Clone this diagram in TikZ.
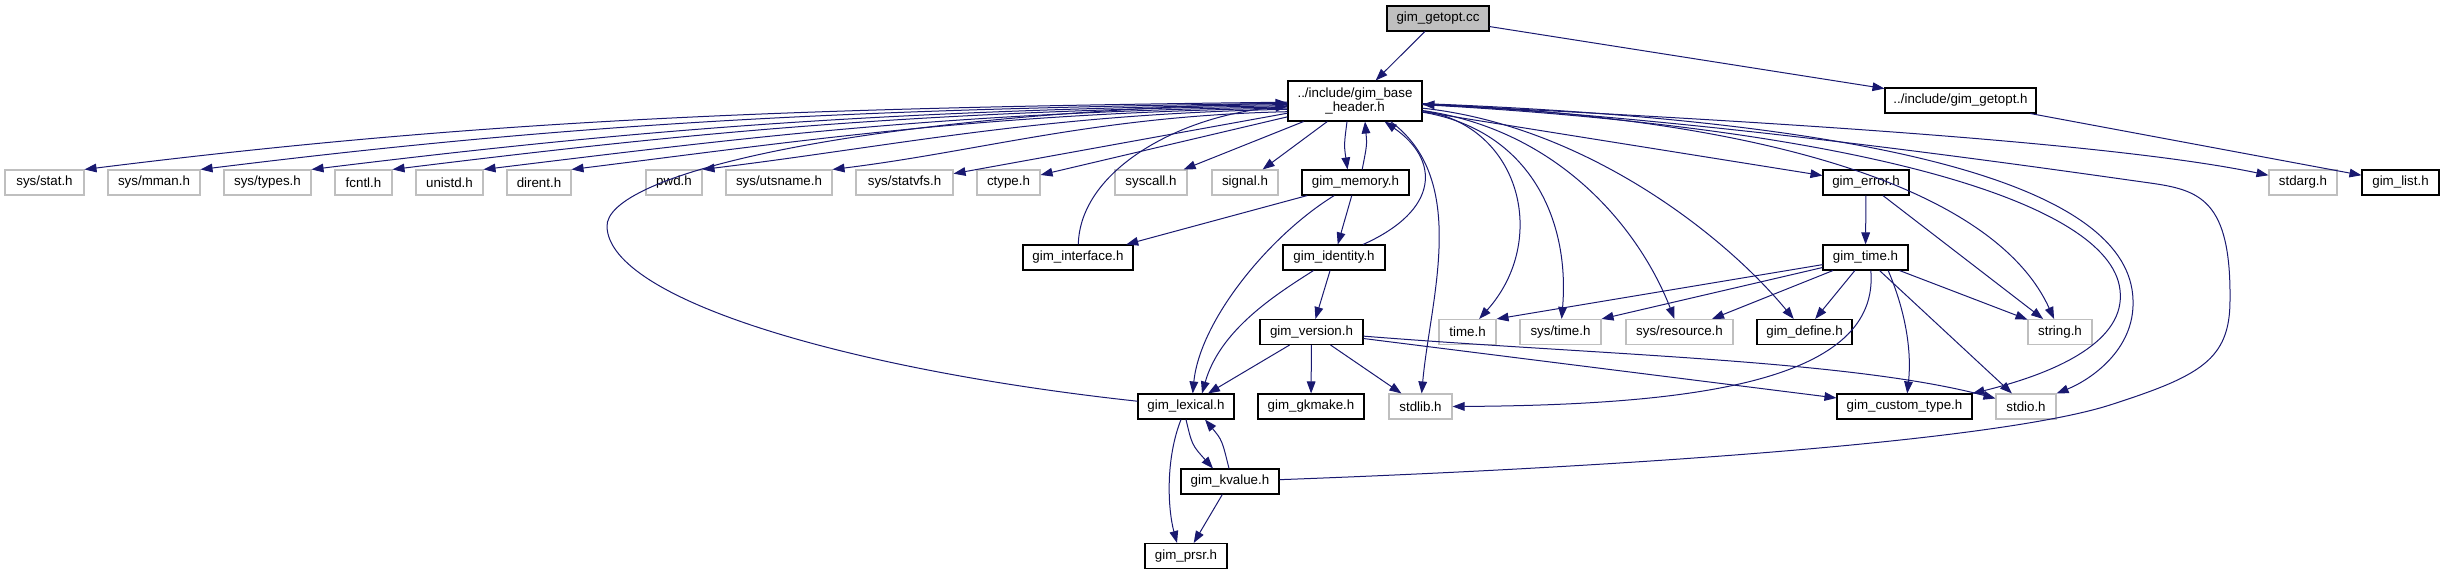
\documentclass[tikz,border=0pt]{standalone}
\usepackage{fontspec}
\setmainfont{Liberation Sans}
\usetikzlibrary{arrows.meta}
\definecolor{edgeblue}{HTML}{191970}
\definecolor{boxgray}{HTML}{BFBFBF}
\begin{document}
\begin{tikzpicture}[x=0.75pt,y=-0.75pt,
  base/.style={draw, rectangle, inner sep=0pt, minimum height=18.75pt, font=\fontsize{10}{10.5}\selectfont, text=black},
  proj/.style={base, draw=black, line width=0.8pt},
  sysh/.style={base, draw=boxgray, line width=0.8pt},
  wd/.style={minimum width=#1*0.75pt},
  e/.style={draw=edgeblue, line width=0.75pt, -{Triangle[length=9pt,width=6.5pt]}},
]
\useasboundingbox (0,0) rectangle (2445,575);
% row 0 / 1
\node[proj, fill=boxgray, wd=102] (getoptcc) at (1438,18.5) {gim\_getopt.cc};
\node[proj, wd=134, minimum height=30pt, align=center] (header) at (1355,101) {../include/gim\_base\\\_header.h};
\node[proj, wd=151] (getopth) at (1960.5,100.5) {../include/gim\_getopt.h};
% row 2
\node[sysh, wd=79] (stat) at (44.5,182.5) {sys/stat.h};
\node[sysh, wd=92] (mman) at (154,182.5) {sys/mman.h};
\node[sysh, wd=87] (types) at (267.5,182.5) {sys/types.h};
\node[sysh, wd=57] (fcntl) at (363.5,182.5) {fcntl.h};
\node[sysh, wd=67] (unistd) at (449.5,182.5) {unistd.h};
\node[sysh, wd=64] (dirent) at (539,182.5) {dirent.h};
\node[sysh, wd=56] (pwd) at (674,182.5) {pwd.h};
\node[sysh, wd=106] (utsname) at (779,182.5) {sys/utsname.h};
\node[sysh, wd=97] (statvfs) at (904.5,182.5) {sys/statvfs.h};
\node[sysh, wd=63] (ctype) at (1008.5,182.5) {ctype.h};
\node[sysh, wd=72] (syscall) at (1151,182.5) {syscall.h};
\node[sysh, wd=66] (signal) at (1245,182.5) {signal.h};
\node[proj, wd=107] (memory) at (1355.5,182.5) {gim\_memory.h};
\node[proj, wd=86] (error) at (1866,182.5) {gim\_error.h};
\node[sysh, wd=68] (stdarg) at (2303,182.5) {stdarg.h};
\node[proj, wd=77] (list) at (2400.5,182.5) {gim\_list.h};
% row 3
\node[proj, wd=110] (interface) at (1078,257.5) {gim\_interface.h};
\node[proj, wd=102] (identity) at (1334,257.5) {gim\_identity.h};
\node[proj, wd=85] (timeg) at (1865.5,257.5) {gim\_time.h};
% row 4
\node[proj, wd=103] (version) at (1311.5,332) {gim\_version.h};
\node[sysh, wd=57] (timeh) at (1467.5,332) {time.h};
\node[sysh, wd=81] (systime) at (1560.5,332) {sys/time.h};
\node[sysh, wd=107] (resource) at (1679.5,332) {sys/resource.h};
\node[proj, wd=95] (define) at (1804.5,332) {gim\_define.h};
\node[sysh, wd=64] (string) at (2060,332) {string.h};
% row 5
\node[proj, wd=96] (lexical) at (1186,406.5) {gim\_lexical.h};
\node[proj, wd=106] (gkmake) at (1311,406.5) {gim\_gkmake.h};
\node[sysh, wd=63] (stdlib) at (1420.5,406.5) {stdlib.h};
\node[proj, wd=135] (custom) at (1904.5,406.5) {gim\_custom\_type.h};
\node[sysh, wd=60] (stdio) at (2026,406.5) {stdio.h};
% row 6 / 7
\node[proj, wd=98] (kvalue) at (1230,481.5) {gim\_kvalue.h};
\node[proj, wd=82] (prsr) at (1186,556) {gim\_prsr.h};

% top
\draw[e] (getoptcc) -- (header);
\draw[e] (getoptcc) -- (getopth);
\draw[e] (getopth) -- (list);
% header fan to the left
\draw[e] (header.181) .. controls (782,108) and (481,120) .. (stat.north east);
\draw[e] (header.182) .. controls (831,109) and (559,125) .. (mman.north east);
\draw[e] (header.183) .. controls (878,110) and (633,130) .. (types.north east);
\draw[e] (header.184) .. controls (912,111) and (688,133) .. (fcntl.north east);
\draw[e] (header.185) .. controls (950,112) and (749,137) .. (unistd.north east);
\draw[e] (header.186) .. controls (987,113) and (808,140) .. (dirent.north east);
\draw[e] (header.187) .. controls (1042,114) and (895,146) .. (pwd.north east);
\draw[e] (header.189) .. controls (1096,116) and (982,151) .. (utsname.north east);
\draw[e] (header) -- (statvfs);
\draw[e] (header) -- (ctype);
\draw[e] (header) -- (syscall);
\draw[e] (header) -- (signal);
\draw[e] ([xshift=-6pt]header.south) .. controls (1344,145) .. ([xshift=-6pt]memory.north);
\draw[e] ([xshift=5pt]memory.north) .. controls (1367,145) .. ([xshift=7.5pt]header.south);
% header fan to the right
\draw[e] (header) -- (error);
\draw[e] (header) .. controls (1700,118) and (2100,140) .. (stdarg);
\draw[e] (header) .. controls (1520,125) and (1550,240) .. (timeh);
\draw[e] (header) .. controls (1530,130) and (1570,220) .. (systime);
\draw[e] (header) .. controls (1560,130) and (1640,230) .. (resource);
\draw[e] (header) .. controls (1580,125) and (1720,230) .. (define);
\draw[e] (header) .. controls (1800,120) and (2000,200) .. (string);
\draw[e] (header) .. controls (1850,128) and (2110,200) .. (2120,290) .. controls (2126,340) and (2060,372) .. (custom.north east);
\draw[e] (header) .. controls (1900,122) and (2130,190) .. (2133,300) .. controls (2135,350) and (2090,380) .. (stdio.north east);
\draw[e] (header.-30) .. controls (1470,180) and (1430,300) .. (stdlib);
% memory
\draw[e] (memory) -- (interface);
\draw[e] (memory) -- (identity);
\draw[e] (memory) .. controls (1270,235) and (1200,320) .. ([xshift=5pt]lexical.north);
% interface
\draw[e] (interface) .. controls (1080,170) and (1180,115) .. (header);
% identity
\draw[e] (identity) .. controls (1440,210) and (1440,160) .. (header);
\draw[e] (identity) -- (version);
\draw[e] (identity) .. controls (1275,295) and (1220,330) .. ([xshift=12pt]lexical.north);
% version
\draw[e] (version) -- (lexical);
\draw[e] (version) -- (gkmake);
\draw[e] (version) -- (stdlib);
\draw[e] (version) -- (custom);
\draw[e] (version) .. controls (1600,355) and (1850,360) .. (stdio);
% lexical
\draw[e] (lexical) .. controls (850,370) and (610,300) .. (607,227) .. controls (604,175) and (850,115) .. (header);
\draw[e] (lexical.south) .. controls (1192,445) .. ([xshift=-12.75pt]kvalue.north);
\draw[e] ([xshift=-0.75pt]kvalue.north) .. controls (1222,440) .. ([xshift=14.25pt]lexical.south);
\draw[e] ([xshift=-3.75pt]lexical.south) .. controls (1165,460) and (1168,510) .. ([xshift=-6.75pt]prsr.north);
% kvalue
\draw[e] (kvalue) -- (prsr);
\draw[e] (kvalue) .. controls (1650,466) and (2000,440) .. (2110,405) .. controls (2200,376) and (2230,360) .. (2230,300) .. controls (2231,200) and (2200,190) .. (2150,183) .. controls (2050,169) and (1700,118) .. (header);
% error
\draw[e] (error) -- (timeg);
\draw[e] (error) -- (string);
% time
\draw[e] (timeg) -- (timeh.north east);
\draw[e] (timeg) -- (systime.north east);
\draw[e] (timeg) -- (resource);
\draw[e] (timeg) -- (define);
\draw[e] (timeg) -- (string);
\draw[e] ([xshift=17pt]timeg.south) .. controls (1905,310) and (1912,350) .. ([xshift=2pt]custom.north);
\draw[e] (timeg) -- (stdio);
\draw[e] ([xshift=4pt]timeg.south) .. controls (1880,380) and (1700,405) .. (stdlib.east);
\end{tikzpicture}
\end{document}
